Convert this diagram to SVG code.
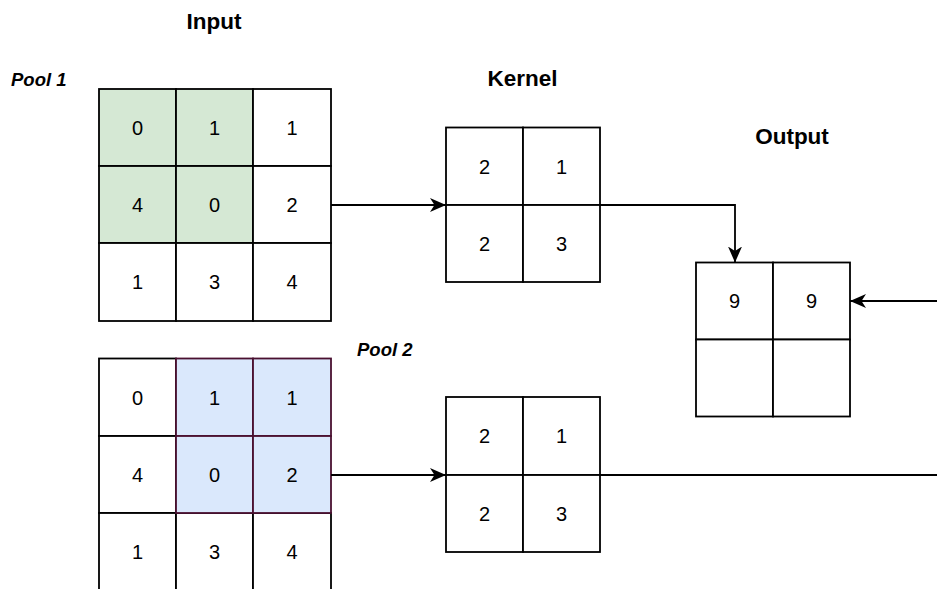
<svg xmlns="http://www.w3.org/2000/svg" width="937" height="589" viewBox="0 0 937 589">
<defs>
<style>
.c{fill:#ffffff;stroke:#000000;stroke-width:1.8}
.g{fill:#d5e8d4;stroke:#000000;stroke-width:1.8}
.b{fill:#dae8fc;stroke:#4a1030;stroke-width:1.8}
.n{font-family:"Liberation Sans",Arial,sans-serif;font-size:20px;fill:#000;text-anchor:middle}
.t{font-family:"Liberation Sans",Arial,sans-serif;font-size:22.5px;font-weight:bold;fill:#000;text-anchor:middle}
.p{font-family:"Liberation Sans",Arial,sans-serif;font-size:18.5px;font-weight:bold;font-style:italic;fill:#000}
.e{fill:none;stroke:#000;stroke-width:1.8}
</style>
<marker id="ah" viewBox="0 0 16 14" refX="16" refY="7" markerWidth="16" markerHeight="14" markerUnits="userSpaceOnUse" orient="auto">
<path d="M0,0 L16,7 L0,14 L4.5,7 Z" fill="#000"/>
</marker>
</defs>
<rect width="937" height="589" fill="#ffffff"/>
<g id="labels">
<text class="t" x="214" y="28.5">Input</text>
<text class="t" x="522.5" y="86">Kernel</text>
<text class="t" x="792" y="144">Output</text>
<text class="p" x="11" y="86">Pool 1</text>
<text class="p" x="357" y="356">Pool 2</text>
</g>
<g id="input1">
<rect class="g" x="99" y="89" width="77" height="77"/>
<rect class="g" x="176" y="89" width="77" height="77"/>
<rect class="c" x="253" y="89" width="78" height="77"/>
<rect class="g" x="99" y="166" width="77" height="77"/>
<rect class="g" x="176" y="166" width="77" height="77"/>
<rect class="c" x="253" y="166" width="78" height="77"/>
<rect class="c" x="99" y="243" width="77" height="78"/>
<rect class="c" x="176" y="243" width="77" height="78"/>
<rect class="c" x="253" y="243" width="78" height="78"/>
<text class="n" x="137.5" y="134.5">0</text>
<text class="n" x="214.5" y="134.5">1</text>
<text class="n" x="292" y="134.5">1</text>
<text class="n" x="137.5" y="211.5">4</text>
<text class="n" x="214.5" y="211.5">0</text>
<text class="n" x="292" y="211.5">2</text>
<text class="n" x="137.5" y="289">1</text>
<text class="n" x="214.5" y="289">3</text>
<text class="n" x="292" y="289">4</text>
</g>
<g id="input2">
<rect class="c" x="99" y="358.5" width="77" height="77.5"/>
<rect class="c" x="99" y="436" width="77" height="77"/>
<rect class="c" x="99" y="513" width="77" height="77"/>
<rect class="c" x="176" y="513" width="77" height="77"/>
<rect class="c" x="253" y="513" width="78" height="77"/>
<rect class="b" x="176" y="358.5" width="77" height="77.5"/>
<rect class="b" x="253" y="358.5" width="78" height="77.5"/>
<rect class="b" x="176" y="436" width="77" height="77"/>
<rect class="b" x="253" y="436" width="78" height="77"/>
<text class="n" x="137.5" y="404.5">0</text>
<text class="n" x="214.5" y="404.5">1</text>
<text class="n" x="292" y="404.5">1</text>
<text class="n" x="137.5" y="481.5">4</text>
<text class="n" x="214.5" y="481.5">0</text>
<text class="n" x="292" y="481.5">2</text>
<text class="n" x="137.5" y="558.5">1</text>
<text class="n" x="214.5" y="558.5">3</text>
<text class="n" x="292" y="558.5">4</text>
</g>
<g id="kernel1">
<rect class="c" x="446" y="127.5" width="77" height="77.5"/>
<rect class="c" x="523" y="127.5" width="77" height="77.5"/>
<rect class="c" x="446" y="205" width="77" height="77"/>
<rect class="c" x="523" y="205" width="77" height="77"/>
<text class="n" x="484.5" y="173.5">2</text>
<text class="n" x="561.5" y="173.5">1</text>
<text class="n" x="484.5" y="250.5">2</text>
<text class="n" x="561.5" y="250.5">3</text>
</g>
<g id="kernel2">
<rect class="c" x="446" y="397" width="77" height="78"/>
<rect class="c" x="523" y="397" width="77" height="78"/>
<rect class="c" x="446" y="475" width="77" height="77"/>
<rect class="c" x="523" y="475" width="77" height="77"/>
<text class="n" x="484.5" y="443">2</text>
<text class="n" x="561.5" y="443">1</text>
<text class="n" x="484.5" y="520.5">2</text>
<text class="n" x="561.5" y="520.5">3</text>
</g>
<g id="output">
<rect class="c" x="696" y="262.5" width="77" height="77"/>
<rect class="c" x="773" y="262.5" width="77" height="77"/>
<rect class="c" x="696" y="339.5" width="77" height="77"/>
<rect class="c" x="773" y="339.5" width="77" height="77"/>
<text class="n" x="734.5" y="308">9</text>
<text class="n" x="811.5" y="308">9</text>
</g>
<g id="connectors">
<path class="e" d="M331,205 H446" marker-end="url(#ah)"/>
<path class="e" d="M600,205 H735 V262.5" marker-end="url(#ah)"/>
<path class="e" d="M331,475 H446" marker-end="url(#ah)"/>
<path class="e" d="M600,475 H940"/>
<path class="e" d="M940,301 H850" marker-end="url(#ah)"/>
</g>
</svg>
